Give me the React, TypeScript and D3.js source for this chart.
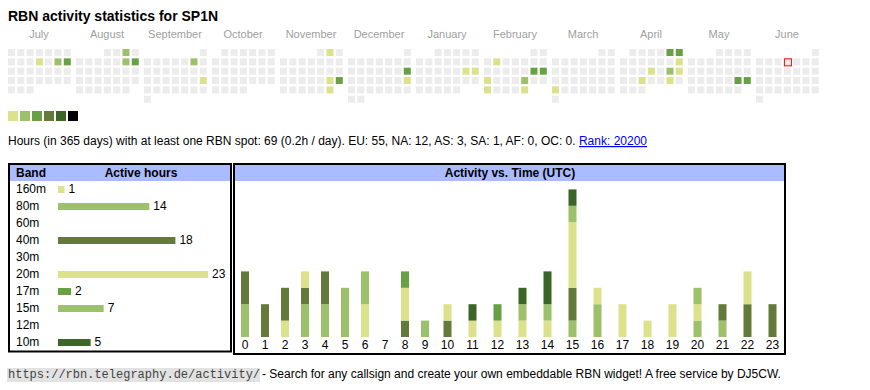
import * as d3 from 'd3';

// calendar (July 2024 - June 2025), days with activity and their level
const months = ['July', 'August', 'September', 'October', 'November', 'December', 'January', 'February', 'March', 'April', 'May', 'June'];
const activeDates = [
  '2024-07-11', '2024-07-13', '2024-07-14', '2024-08-03', '2024-08-10', '2024-08-11',
  '2024-09-07', '2024-09-22', '2024-11-02', '2024-11-23', '2024-11-24', '2024-11-30',
  '2024-12-15', '2024-12-22', '2025-01-18', '2025-01-19', '2025-02-04', '2025-02-15',
  '2025-02-16', '2025-02-17', '2025-02-21', '2025-02-24', '2025-02-28', '2025-03-24',
  '2025-04-05', '2025-04-06', '2025-04-13', '2025-04-17', '2025-04-19', '2025-04-20',
  '2025-04-23', '2025-04-26', '2025-05-24', '2025-05-25',
];
const activeLevels = [
  1, 2, 3, 2, 2, 3,
  2, 1, 1, 1, 3, 1,
  3, 1, 1, 1, 1, 3,
  3, 1, 2, 1, 1, 1,
  3, 3, 1, 1, 2, 1,
  1, 1, 3, 3,
];
const today = '2025-06-05';
const levelColors = ['#dbe28b', '#9dc06a', '#68a044', '#647a3a', '#3c6628', '#000000'];

// bands and hours per UTC hour
const bands = ['160m', '80m', '60m', '40m', '30m', '20m', '17m', '15m', '12m', '10m'];
const bandColors = ['#dbe28b', '#9dc06a', '#68a044', '#647a3a', '#3c6628', '#dbe28b', '#68a044', '#9dc06a', '#647a3a', '#3c6628'];
const hourLabels = ['0', '1', '2', '3', '4', '5', '6', '7', '8', '9', '10', '11', '12', '13', '14', '15', '16', '17', '18', '19', '20', '21', '22', '23'];
const hours160m = [0, 0, 1, 0, 0, 0, 0, 0, 0, 0, 0, 0, 0, 0, 0, 0, 0, 0, 0, 0, 0, 0, 0, 0];
const hours80m = [2, 0, 0, 2, 2, 3, 0, 0, 0, 0, 0, 0, 0, 0, 0, 1, 2, 0, 0, 0, 1, 1, 0, 0];
const hours60m = [0, 0, 0, 0, 0, 0, 0, 0, 0, 0, 0, 0, 0, 0, 0, 0, 0, 0, 0, 0, 0, 0, 0, 0];
const hours40m = [2, 2, 2, 1, 2, 0, 0, 0, 1, 0, 1, 0, 0, 0, 0, 2, 0, 0, 0, 0, 0, 1, 2, 2];
const hours30m = [0, 0, 0, 0, 0, 0, 0, 0, 0, 0, 0, 0, 0, 0, 0, 0, 0, 0, 0, 0, 0, 0, 0, 0];
const hours20m = [0, 0, 0, 1, 0, 0, 2, 0, 2, 0, 1, 1, 1, 1, 1, 4, 1, 2, 1, 2, 1, 0, 2, 0];
const hours17m = [0, 0, 0, 0, 0, 0, 0, 0, 1, 0, 0, 0, 1, 0, 0, 0, 0, 0, 0, 0, 0, 0, 0, 0];
const hours15m = [0, 0, 0, 0, 0, 0, 2, 0, 0, 1, 0, 0, 0, 1, 1, 1, 0, 0, 0, 0, 1, 0, 0, 0];
const hours12m = [0, 0, 0, 0, 0, 0, 0, 0, 0, 0, 0, 0, 0, 0, 0, 0, 0, 0, 0, 0, 0, 0, 0, 0];
const hours10m = [0, 0, 0, 0, 0, 0, 0, 0, 0, 0, 0, 1, 0, 1, 2, 1, 0, 0, 0, 0, 0, 0, 0, 0];

const bandHours: Record<string, number[]> = {
  '160m': hours160m, '80m': hours80m, '60m': hours60m, '40m': hours40m, '30m': hours30m,
  '20m': hours20m, '17m': hours17m, '15m': hours15m, '12m': hours12m, '10m': hours10m,
};

const FONT = '"Liberation Sans", Arial, sans-serif';
const fmt = d3.timeFormat('%Y-%m-%d');
const parse = d3.timeParse('%Y-%m-%d');

function Calendar() {
  const first = parse('2024-07-01')!;
  const monthDates = d3.timeMonths(first, d3.timeMonth.offset(first, 12));
  const levelByDate = new Map(activeDates.map((d, i) => [d, activeLevels[i]]));

  const xMonth = d3.scaleBand<number>().domain(d3.range(12)).range([8, 8 + 68 * 12]);
  const xDay = d3.scaleBand<number>().domain(d3.range(7)).range([0, 63]).paddingInner(2 / 9).paddingOuter(0).align(0);
  const yWeek = d3.scaleBand<number>().domain(d3.range(6)).range([49, 49 + 54]).paddingInner(2 / 9).align(0);
  const color = d3.scaleOrdinal<number, string>().domain([1, 2, 3, 4, 5, 6]).range(levelColors);

  return (
    <g>
      {monthDates.map((m, i) => {
        const x0 = xMonth(i)!;
        const days = d3.timeDay.range(m, d3.timeMonth.offset(m, 1));
        return (
          <g key={i}>
            <text x={x0 + 31} y={38} textAnchor="middle" fontSize={11} fill="#a0a0a0" fontFamily={FONT}>{months[i]}</text>
            {days.map((d) => {
              const col = (d.getDay() + 6) % 7;
              const row = d3.timeMonday.count(m, d);
              const key = fmt(d);
              const lvl = levelByDate.get(key);
              const x = x0 + xDay(col)!;
              const y = yWeek(row)!;
              return (
                <g key={key}>
                  <rect x={x} y={y} width={7} height={7} fill={lvl ? color(lvl) : '#ececec'} />
                  {key === today && <rect x={x + 0.5} y={y + 0.5} width={7} height={7} fill="none" stroke="#ff0000" strokeWidth={1} />}
                </g>
              );
            })}
          </g>
        );
      })}
      {levelColors.map((c, i) => (
        <rect key={c} x={8 + i * 12} y={111} width={10} height={10} fill={c} />
      ))}
    </g>
  );
}

function BandTable() {
  const totals = bands.map((b) => d3.sum(bandHours[b]));
  const x = d3.scaleLinear().domain([0, d3.max(totals)!]).range([58, 208]);
  const y = d3.scaleBand<string>().domain(bands).range([181, 181 + 17 * bands.length]);
  return (
    <g fontFamily={FONT}>
      <rect x={10} y={165} width={220} height={16} fill="#aabbff" />
      <rect x={9} y={164} width={222} height={187.5} fill="none" stroke="#000" strokeWidth={2} />
      <text x={16} y={177} fontSize={12} fontWeight="bold">Band</text>
      <text x={141} y={177} fontSize={12} fontWeight="bold" textAnchor="middle">Active hours</text>
      {bands.map((b, i) => {
        const top = y(b)!;
        const v = totals[i];
        return (
          <g key={b}>
            <text x={16} y={top + 12} fontSize={12}>{b}</text>
            {v > 0 && (
              <>
                <rect x={x(0)} y={top + 5} width={x(v) - x(0)} height={7} fill={bandColors[i]} />
                <text x={x(v) + 4} y={top + 12} fontSize={12}>{v}</text>
              </>
            )}
          </g>
        );
      })}
    </g>
  );
}

function ActivityChart() {
  const colW = hourLabels.map((l) => 15 + 5 * l.length);
  const starts = [0, ...d3.cumsum(colW)].map((v) => 235 + v);
  const x = d3.scaleOrdinal<string, number>().domain(hourLabels).range(hourLabels.map((_, i) => starts[i] + colW[i] / 2));
  const rows = hourLabels.map((h, i) => {
    const o: Record<string, number> = {};
    bands.forEach((b) => { o[b] = bandHours[b][i]; });
    return o;
  });
  const series = d3.stack<Record<string, number>>().keys(bands)(rows);
  const maxTotal = d3.max(rows, (r) => d3.sum(bands, (b) => r[b]))!;
  const y = d3.scaleLinear().domain([0, maxTotal]).range([337, 337 - 16.4 * maxTotal]);
  const barW = 8;
  return (
    <g fontFamily={FONT}>
      <rect x={235} y={165} width={549} height={16} fill="#aabbff" />
      <rect x={234} y={164} width={551} height={190} fill="none" stroke="#000" strokeWidth={2} />
      <text x={510} y={177} fontSize={12} fontWeight="bold" textAnchor="middle">Activity vs. Time (UTC)</text>
      {series.map((s, si) => (
        <g key={s.key} fill={bandColors[si]}>
          {s.map((d, i) => d[1] > d[0] && (
            <rect key={i} x={x(hourLabels[i]) - barW / 2} y={y(d[1])} width={barW} height={y(d[0]) - y(d[1])} />
          ))}
        </g>
      ))}
      {hourLabels.map((h) => (
        <text key={h} x={x(h)} y={349} fontSize={12} textAnchor="middle">{h}</text>
      ))}
    </g>
  );
}

export default function App() {
  return (
    <svg width={870} height={390} style={{ position: 'absolute', left: 0, top: 0, background: '#fff' }}>
      <text x={8} y={21} fontFamily={FONT} fontSize={14} fontWeight="bold">RBN activity statistics for SP1N</text>
      <Calendar />
      <text x={8} y={145} fontFamily={FONT} fontSize={12}>
        Hours (in 365 days) with at least one RBN spot: 69 (0.2h / day). EU: 55, NA: 12, AS: 3, SA: 1, AF: 0, OC: 0.{' '}
        <tspan fill="#0000ee" style={{ textDecoration: 'underline' }}>Rank: 20200</tspan>
      </text>
      <BandTable />
      <ActivityChart />
      <rect x={7} y={368} width={253} height={14} fill="#e2e2e2" />
      <text x={8} y={378} fontFamily='"Liberation Mono", "Courier New", monospace' fontSize={12} fill="#444">https://rbn.telegraphy.de/activity/</text>
      <text x={262} y={378} fontFamily={FONT} fontSize={12}>- Search for any callsign and create your own embeddable RBN widget! A free service by DJ5CW.</text>
    </svg>
  );
}
